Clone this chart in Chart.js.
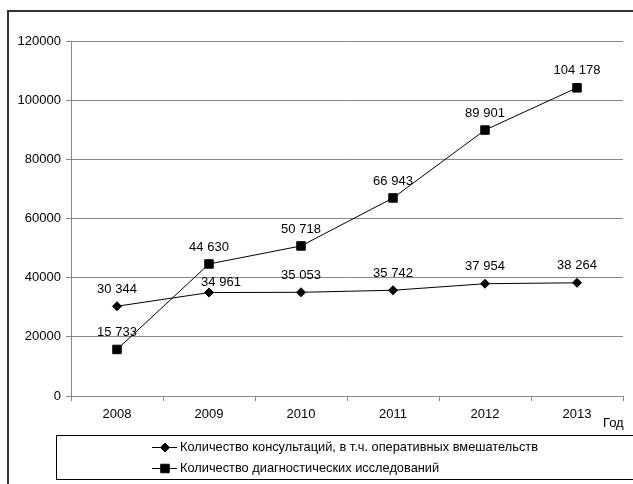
<!DOCTYPE html>
<html><head><meta charset="utf-8">
<script src="https://cdn.jsdelivr.net/npm/chart.js@4"></script>
<style>html,body{margin:0;padding:0;background:#fff}#wrap{width:633px;height:484px}</style>
</head><body><div id="wrap"><canvas id="c" width="633" height="484"></canvas></div>
<script>
const years = ['2008','2009','2010','2011','2012','2013'];
const consultations = [30344, 34961, 35053, 35742, 37954, 38264];
const diagnostics = [15733, 44630, 50718, 66943, 89901, 104178];
const seriesNames = ['Количество консультаций, в т.ч. оперативных вмешательств','Количество диагностических исследований'];
const yTicks = [0, 20000, 40000, 60000, 80000, 100000, 120000];
const xAxisName = 'Год';

const FONT = '"Liberation Sans", Arial, sans-serif';
const fmt = v => String(v).replace(/\B(?=(\d{3})+(?!\d))/g, ' ');

const decor = {
  id: 'decor',
  beforeDraw(chart) {
    const ctx = chart.ctx;
    ctx.save();
    ctx.fillStyle = '#fff';
    ctx.fillRect(0, 0, chart.width, chart.height);
    ctx.strokeStyle = '#333';
    ctx.lineWidth = 2;
    ctx.strokeRect(8, 11, chart.width + 20, chart.height + 20);
    ctx.restore();
  },
  afterDraw(chart) {
    const ctx = chart.ctx;
    const xs = chart.scales.x, ys = chart.scales.y;
    ctx.save();
    ctx.font = '13px ' + FONT;
    ctx.fillStyle = '#000';
    ctx.textAlign = 'center';
    ctx.textBaseline = 'middle';
    chart.data.datasets.forEach((ds, di) => {
      ds.data.forEach((v, i) => {
        const px = xs.getPixelForValue(i), py = ys.getPixelForValue(v);
        let dx = 0, dy = -17;
        if (di === 0 && i === 1) { dx = 12; dy = -10; }
        ctx.fillText(fmt(v), px + dx, py + dy);
      });
    });
    ctx.textAlign = 'left';
    ctx.fillText(xAxisName, 603, 423);
    ctx.strokeStyle = '#000';
    ctx.lineWidth = 1;
    ctx.strokeRect(56.5, 435.5, chart.width + 20, 44);
    ctx.font = '12.8px ' + FONT;
    const rows = [447, 468];
    chart.data.datasets.forEach((ds, di) => {
      const y = rows[di] + 0.5;
      ctx.beginPath();
      ctx.moveTo(152, y); ctx.lineTo(177, y);
      ctx.strokeStyle = '#000'; ctx.lineWidth = 1; ctx.stroke();
      ctx.fillStyle = '#000';
      Chart.helpers.drawPoint(ctx, {pointStyle: ds.pointStyle, radius: ds.pointRadius, rotation: 0, borderWidth: 1}, 165, y);
      ctx.fillStyle = '#000';
      ctx.fillText(ds.label, 180, y);
    });
    ctx.restore();
  }
};

new Chart(document.getElementById('c'), {
  type: 'line',
  data: {
    labels: years,
    datasets: [
      { label: seriesNames[0], data: consultations, borderColor: '#000', backgroundColor: '#000', borderWidth: 1, pointStyle: 'rectRot', pointRadius: 4.5, pointBackgroundColor: '#000', pointBorderColor: '#000', tension: 0 },
      { label: seriesNames[1], data: diagnostics, borderColor: '#000', backgroundColor: '#000', borderWidth: 1, pointStyle: 'rect', pointRadius: 6, pointBackgroundColor: '#000', pointBorderColor: '#000', tension: 0 }
    ]
  },
  options: {
    responsive: false,
    animation: false,
    devicePixelRatio: 1,
    layout: { padding: { left: 0, right: 10, top: 41, bottom: 0 } },
    plugins: { legend: { display: false }, tooltip: { enabled: false } },
    scales: {
      x: {
        offset: true,
        grid: { display: true, drawOnChartArea: false, drawTicks: true, tickLength: 5, color: '#888', offset: true },
        border: { display: true, color: '#888', width: 1 },
        ticks: { color: '#000', font: { family: FONT, size: 13 }, padding: 6, maxRotation: 0 },
        afterFit(s) { s.height = 88; }
      },
      y: {
        min: 0, max: 120000,
        afterBuildTicks(s) { s.ticks = yTicks.map(v => ({ value: v })); },
        grid: { color: '#888', tickLength: 5, drawTicks: true },
        border: { display: true, color: '#888', width: 1 },
        ticks: { color: '#000', font: { family: FONT, size: 13 }, padding: 5, callback: v => String(v) },
        afterFit(s) { s.width = 71; }
      }
    }
  },
  plugins: [decor]
});
</script></body></html>
